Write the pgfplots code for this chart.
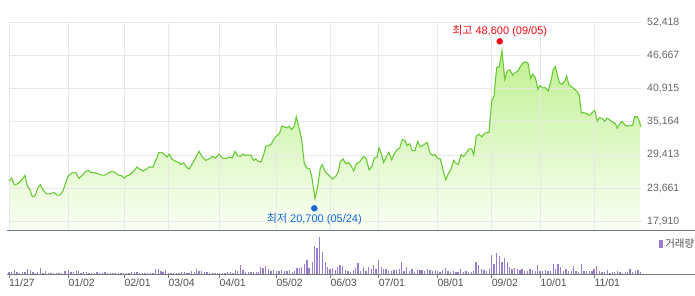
\documentclass[border=0pt]{standalone}
\usepackage{fontspec}
\setmainfont{Liberation Sans}
\newfontfamily\kr{Noto Sans CJK KR}
\usepackage{pgfplots}
\pgfplotsset{compat=1.18}
\usepackage{pgfplotstable}
\definecolor{linegreen}{RGB}{102,204,51}
\definecolor{filltop}{RGB}{192,240,145}
\definecolor{fillbot}{RGB}{250,255,245}
\definecolor{gridgray}{RGB}{232,232,232}
\definecolor{labelgray}{RGB}{102,102,102}
\definecolor{xlabgray}{RGB}{80,80,80}
\definecolor{sepgray}{RGB}{120,120,120}
\definecolor{volcolor}{RGB}{150,125,205}
\definecolor{hired}{RGB}{240,10,20}
\definecolor{loblue}{RGB}{20,105,220}

\pgfplotstableread{
x y
9.0 24933
11.7 25404
14.3 24236
17.7 24411
21.7 25108
25.0 25857
27.3 24062
30.0 23365
32.3 22197
35.0 22319
37.7 23661
40.3 24236
43.0 23365
46.3 22668
49.7 22668
54.3 22894
57.0 22441
59.7 22441
63.0 23191
65.7 24637
68.3 25805
71.7 26275
75.7 26380
79.0 25334
82.3 25927
85.7 26554
88.3 26729
91.0 26380
94.3 26380
97.7 26153
101.7 25927
105.0 25927
109.0 26380
112.3 26554
115.0 26380
118.3 25927
121.7 25805
124.3 25404
127.0 25805
130.3 26031
133.7 26624
137.0 27321
139.7 26973
143.0 26624
145.7 26851
149.0 27321
153.0 27321
156.3 28715
159.0 29866
161.7 29866
164.3 29517
167.0 29064
169.5 29550
171.7 28715
175.7 28297
179.0 28123
181.0 27722
183.7 28018
186.3 27321
189.0 26973
191.7 27722
195.0 28715
199.0 30040
202.3 29064
205.7 28471
209.0 28715
212.3 29168
215.7 28890
219.0 29587
222.3 28890
225.7 28768
229.0 29064
232.3 28890
235.0 30040
237.7 29290
240.3 29168
243.0 29587
245.0 29290
247.7 29412
251.0 29354
253.7 28471
255.7 28715
258.3 28297
261.0 28193
263.7 29465
265.7 30911
268.3 31033
271.0 31208
273.7 32079
277.0 32776
279.7 33247
281.7 34397
284.3 34292
287.0 34118
289.0 34397
291.7 33822
294.3 34397
296.3 36035
299.0 34118
301.7 32079
304.3 27896
307.0 27147
309.7 27025
311.7 25683
315.0 21849
317.7 23940
320.3 27147
322.3 27722
325.0 26554
328.3 25979
332.3 25230
335.7 25683
338.3 26554
340.3 28297
343.0 28715
345.7 27896
348.3 28123
351.0 27548
353.7 26676
356.3 27844
359.7 28245
363.7 29168
366.3 28715
369.0 26851
371.7 27321
374.3 28890
377.0 29064
379.0 30632
381.7 29465
383.7 28123
386.3 29168
389.0 29866
391.7 28593
394.3 29639
397.0 30336
399.7 30632
402.3 32079
405.0 31957
407.0 31033
409.7 31382
412.3 30162
415.0 30162
417.7 31783
420.3 30807
423.7 31155
427.0 31608
430.3 29639
433.0 29290
435.0 29517
437.7 28820
440.3 28715
443.0 26851
445.7 25108
448.3 26153
451.0 26973
453.7 28471
455.7 28018
458.3 27774
461.0 29465
463.7 29168
466.3 29761
469.0 30458
471.7 30458
473.7 29412
476.3 32654
479.0 33003
481.7 32550
484.3 33125
487.0 33351
489.0 33351
491.7 38754
494.0 39625
496.7 44575
499.3 44749
502.0 47468
504.7 42536
507.3 43982
510.0 44157
512.7 43233
515.3 43703
518.0 43982
520.7 44854
523.3 45446
526.0 45551
528.0 45324
530.7 42658
532.7 43407
535.3 42832
538.0 40793
540.0 41490
542.7 41020
545.3 41079
548.0 40497
550.7 41961
553.3 44279
555.3 44749
557.3 43407
559.3 41961
562.0 41664
564.7 42240
566.7 43111
568.7 41664
571.3 41264
574.0 40915
576.7 40497
579.3 39747
581.3 36732
584.0 36732
586.7 36610
589.3 36261
592.0 36732
594.7 37133
597.3 35268
599.3 35861
602.0 35791
604.7 35268
607.3 35791
610.0 35443
612.7 35094
615.3 34867
617.3 34048
620.0 34867
622.0 35216
624.7 34641
627.3 34397
630.0 34519
632.7 34519
634.7 36035
637.3 36035
639.3 35268
640.7 34292
}\price

\pgfplotstableread{
x v
9.0 6
11.7 6
14.3 12
17.0 6
19.7 4
22.3 6
25.0 6
27.7 15
30.3 12
33.0 6
35.7 4
37.7 6
40.3 18
43.0 4
45.7 9
48.3 3
51.0 3
53.7 3
56.3 3
59.0 3
61.7 3
65.0 9
68.3 12
71.0 6
73.7 6
76.3 9
78.3 9
81.0 3
83.7 6
86.3 6
89.0 3
91.7 3
94.3 3
97.0 6
99.7 3
102.3 3
105.0 6
107.7 3
110.3 3
113.0 3
115.7 3
118.3 3
121.0 3
123.7 3
126.3 3
129.0 3
131.7 6
134.3 6
137.0 6
139.7 3
142.3 3
145.0 3
147.7 3
150.3 3
153.0 3
155.7 15
158.3 15
161.0 9
163.0 6
165.7 12
168.3 3
171.0 3
173.7 3
176.3 3
179.0 3
181.7 6
184.3 6
187.0 3
189.0 3
191.7 9
194.3 6
196.3 15
199.0 9
201.7 9
204.3 6
207.0 6
209.7 3
212.3 3
215.0 3
217.7 3
219.7 3
222.3 3
225.0 3
227.7 6
230.3 6
233.0 3
235.7 12
237.7 9
240.3 27
243.0 12
245.7 6
248.3 6
251.0 6
253.7 6
256.3 6
258.3 6
260.3 21
263.0 18
265.7 24
268.3 15
271.0 9
273.7 12
276.3 9
279.0 9
281.7 12
284.3 9
287.0 9
289.7 12
292.3 6
294.3 9
297.0 18
299.7 18
301.7 21
304.3 30
307.0 42
309.0 18
312.3 36
314.3 84
317.0 78
319.3 108
322.3 66
325.3 36
327.3 21
330.0 15
332.7 18
335.3 12
337.3 21
340.0 27
342.7 25
345.3 12
348.0 9
350.7 6
353.3 12
355.3 18
358.0 33
360.7 9
363.3 21
366.0 9
368.7 21
371.3 15
373.3 27
376.0 15
378.7 42
381.3 21
383.3 15
386.0 15
388.7 9
391.3 9
394.0 12
396.7 12
399.3 15
401.3 36
404.0 9
406.7 21
409.3 9
412.0 15
414.7 6
417.3 12
420.0 12
422.0 12
424.7 9
427.3 15
430.0 12
432.7 9
435.3 9
437.3 9
440.0 6
442.7 12
445.3 18
448.0 9
450.7 6
453.3 9
456.0 6
458.0 6
460.7 15
463.3 6
466.0 9
468.7 6
471.3 6
473.3 9
476.0 36
478.7 27
481.3 15
484.0 12
486.7 9
489.3 15
491.3 57
494.0 30
496.7 63
499.3 54
502.0 36
504.7 48
507.3 36
509.3 21
512.0 15
514.7 18
517.3 15
520.0 12
522.0 15
524.7 9
527.3 9
530.0 15
532.7 12
535.3 9
537.3 27
540.0 9
542.7 9
545.3 12
548.0 9
550.7 9
553.3 30
555.3 15
558.0 30
560.7 21
563.3 9
566.0 15
568.7 9
571.3 9
573.3 24
576.0 9
578.7 6
581.3 30
584.0 9
586.7 9
589.3 9
592.0 9
594.0 15
596.7 24
599.3 9
602.0 6
604.7 6
607.3 12
610.0 3
612.7 6
614.7 6
617.3 9
620.0 6
622.7 3
625.3 6
627.3 6
630.0 15
632.7 6
635.3 9
638.0 12
640.7 6
}\volume

\begin{document}
\begin{tikzpicture}
\path[use as bounding box] (0,0) rectangle (695pt,295pt);
% fill layer
\begin{axis}[at={(9pt,64.3pt)}, anchor=south west, scale only axis,
  width=631.7pt, height=208.4pt,
  xmin=9, xmax=640.7, ymin=16280, ymax=52418,
  hide axis]
  \addplot[draw=none, top color=filltop, bottom color=fillbot]
    table[x=x,y=y] {\price} -- (axis cs:640.7,16280) -- (axis cs:9,16280) -- cycle;
\end{axis}
% line, grid, labels
\begin{axis}[at={(9pt,64.3pt)}, anchor=south west, scale only axis,
  width=631.7pt, height=208.4pt,
  xmin=9, xmax=640.7, ymin=16280, ymax=52418,
  axis line style={draw=none}, major tick length=0pt,
  scaled y ticks=false, scaled x ticks=false,
  xtick={9,68.3,124.3,168.3,219.3,276.3,330.3,378.6,437.3,491.6,540.3,594.3},
  xticklabels={},
  ytick={17910,23661,29413,35164,40915,46667,52418},
  yticklabels={{17,910},{23,661},{29,413},{35,164},{40,915},{46,667},{52,418}},
  yticklabel pos=right,
  yticklabel style={anchor=west, inner sep=0pt, xshift=6.3pt, text=labelgray,
    font=\fontsize{10.5}{12}\selectfont},
  grid=major, grid style={draw=gridgray, line width=0.9pt},
  clip=false]
  \addplot[draw=linegreen, line width=1.1pt, mark=none] table[x=x,y=y] {\price};
  \addplot[only marks, mark=*, mark size=3pt, color=hired,
    nodes near coords={{\kr 최고} 48,600 (09/05)},
    every node near coord/.style={anchor=center, yshift=10.3pt, text=hired,
      font=\fontsize{11}{13}\selectfont}]
    coordinates {(499.7,49120)};
  \addplot[only marks, mark=*, mark size=3pt, color=loblue,
    nodes near coords={{\kr 최저} 20,700 (05/24)},
    every node near coord/.style={anchor=center, yshift=-10.7pt, text=loblue,
      font=\fontsize{11}{13}\selectfont}]
    coordinates {(314.3,20165)};
\end{axis}
% volume
\begin{axis}[at={(9pt,21pt)}, anchor=south west, scale only axis,
  width=631.7pt, height=43.3pt,
  xmin=9, xmax=640.7, ymin=0, ymax=128,
  axis line style={draw=none},
  scaled x ticks=false,
  xtick={9,68.3,124.3,168.3,219.3,276.3,330.3,378.6,437.3,491.6,540.3,594.3},
  xticklabels={11/27,01/02,02/01,03/04,04/01,05/02,06/03,07/01,08/01,09/02,10/01,11/01},
  xtick pos=bottom, tick align=outside, major tick length=4.3pt,
  xtick style={draw=sepgray, line width=0.8pt},
  ytick=\empty,
  xticklabel style={anchor=north west, inner sep=0pt, text=xlabgray,
    font=\fontsize{10.5}{12}\selectfont},
  legend style={at={(1.029,0.69)}, anchor=west, draw=none, fill=none,
    inner sep=0pt, font=\fontsize{10.5}{12}\selectfont, text=xlabgray},
  legend image code/.code={\fill[volcolor] (0pt,-3.5pt) rectangle (3pt,3.5pt);},
  clip=false]
  \addplot[ycomb, draw=volcolor, line width=1.1pt, mark=none] table[x=x,y=v] {\volume};
  \addlegendentry{\kr 거래량}
\end{axis}
\draw[sepgray, line width=1pt] (7pt,64.3pt) -- (695pt,64.3pt);
\draw[sepgray, line width=1pt] (7pt,21pt) -- (695pt,21pt);
\end{tikzpicture}
\end{document}
